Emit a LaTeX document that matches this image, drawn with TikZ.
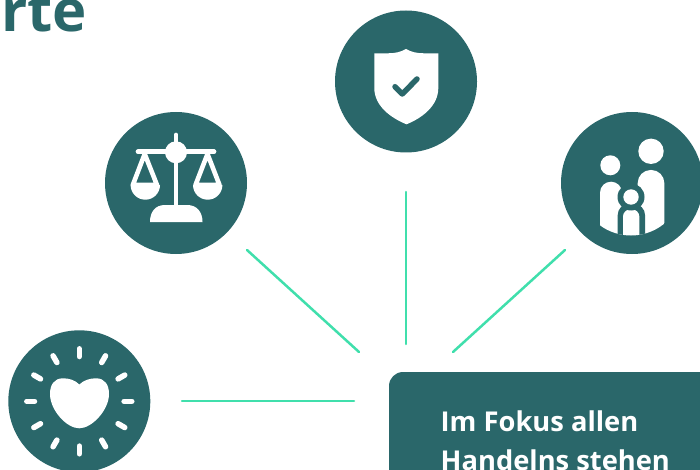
\documentclass[tikz,border=0pt]{standalone}
\usepackage{fontspec}
\usetikzlibrary{calc}
\setmainfont{Open Sans}
\definecolor{teal}{HTML}{2A676A}
\definecolor{mint}{HTML}{40DFAC}
\tikzset{
  x=1pt,y=-1pt,
  disc/.style={circle,fill=teal,minimum size=142pt,inner sep=0pt,draw=none},
  link/.style={draw=mint,line width=2.5pt,line cap=round},
  whiteline/.style={draw=white,line cap=round,line join=round},
  ray/.style={draw=white,line width=5.5pt,line cap=round},
  bodytext/.style={anchor=base west,inner sep=0pt,text=white,font=\bfseries\fontsize{27.3}{32}\selectfont},
}
\begin{document}
\begin{tikzpicture}
\useasboundingbox (0,0) rectangle (700,470);
\clip (0,0) rectangle (700,470);
% title fragment
\node[anchor=base east,inner sep=0pt,text=teal,font=\bfseries\fontsize{58}{60}\selectfont] (title) at (87,32) {erte};
% discs
\node[disc] (law) at (176,183) {};
\node[disc] (shield) at (406,81.5) {};
\node[disc] (family) at (632,183) {};
\node[disc] (heart) at (79.3,401.3) {};
% box
\fill[teal,rounded corners=14pt] (389,372) rectangle (730,500);
\node[bodytext] (l1) at (440.5,431.7) {Im Fokus allen};
\node[bodytext] (l2) at (440.5,470.5) {Handelns stehen};
% connectors
\coordinate (lawEnd) at (359,352);
\coordinate (lawStart) at (247,250);
\coordinate (shieldStart) at (406,192);
\coordinate (shieldEnd) at (406,344);
\coordinate (famStart) at (565,250);
\coordinate (famEnd) at (453,352);
\coordinate (heartStart) at (182,401);
\coordinate (heartEnd) at (354,401);
\draw[link] (lawStart) -- (lawEnd);
\draw[link] (shieldStart) -- (shieldEnd);
\draw[link] (famStart) -- (famEnd);
\draw[link] (heartStart) -- (heartEnd);
% scales icon
\draw[whiteline,line width=4.7pt] (176,135) -- (176,206);
\draw[whiteline,line width=4.7pt] (138,151.7) -- (214,151.7);
\fill[white] (176,152.3) circle (11);
\fill[white] (150,222) .. controls (150,212) and (155,205) .. (165,205) -- (187,205) .. controls (197,205) and (202.5,212) .. (202.5,222) -- cycle;
\draw[whiteline,line width=4.6pt] (144.7,154) -- (132.8,185) -- (157,185) -- cycle;
\draw[whiteline,line width=4.6pt] (207.5,154) -- (195.5,185) -- (219.5,185) -- cycle;
\fill[white] (130.6,185) arc[start angle=180,end angle=0,radius=14.7] -- cycle;
\fill[white] (193,185) arc[start angle=180,end angle=0,radius=14.7] -- cycle;
% shield icon
\fill[white] (374.3,53.3) -- (388,53.3) .. controls (395,53.3) and (401,52) .. (406,49) .. controls (411,52) and (417,53.3) .. (424,53.3) -- (438.3,53.3) -- (438.3,88) .. controls (438.3,106) and (422,118) .. (406.5,124.3) .. controls (391,118) and (374.3,106) .. (374.3,88) -- cycle;
\draw[line width=5.5pt,draw=teal,line cap=round,line join=round] (395,86.7) -- (402.3,94) -- (417,79);
% family icon
\begin{scope}
\clip (631,183) circle (52.5);
\fill[white,rounded corners=11pt] (600,181.7) rectangle (622,250);
\fill[white,rounded corners=13pt] (637.7,170) rectangle (664.3,250);
\fill[teal,rounded corners=11pt] (617.7,204) rectangle (645,250);
\fill[white,rounded corners=7pt] (623,209.5) rectangle (639.3,250);
\end{scope}
\fill[white] (651,151.3) circle (12.7);
\fill[white] (610.3,165.3) circle (10);
\fill[teal] (631,197) circle (13.5);
\fill[white] (631,197) circle (7.7);
% heart icon
\foreach \a in {0,30,...,330}{
  \draw[ray] ($(heart.center)+(\a:44.8)$) -- ($(heart.center)+(\a:52.5)$);
}
\fill[white] (79.3,384.5) .. controls (84,380) and (90,378.3) .. (96,378.3) .. controls (105,378.3) and (109,385) .. (109,394) .. controls (109,410) and (92,428.3) .. (79.3,428.3) .. controls (66.5,428.3) and (50,410) .. (50,394) .. controls (50,385) and (54,378.3) .. (63,378.3) .. controls (69,378.3) and (75,380) .. (79.3,384.5) -- cycle;
\end{tikzpicture}
\end{document}
